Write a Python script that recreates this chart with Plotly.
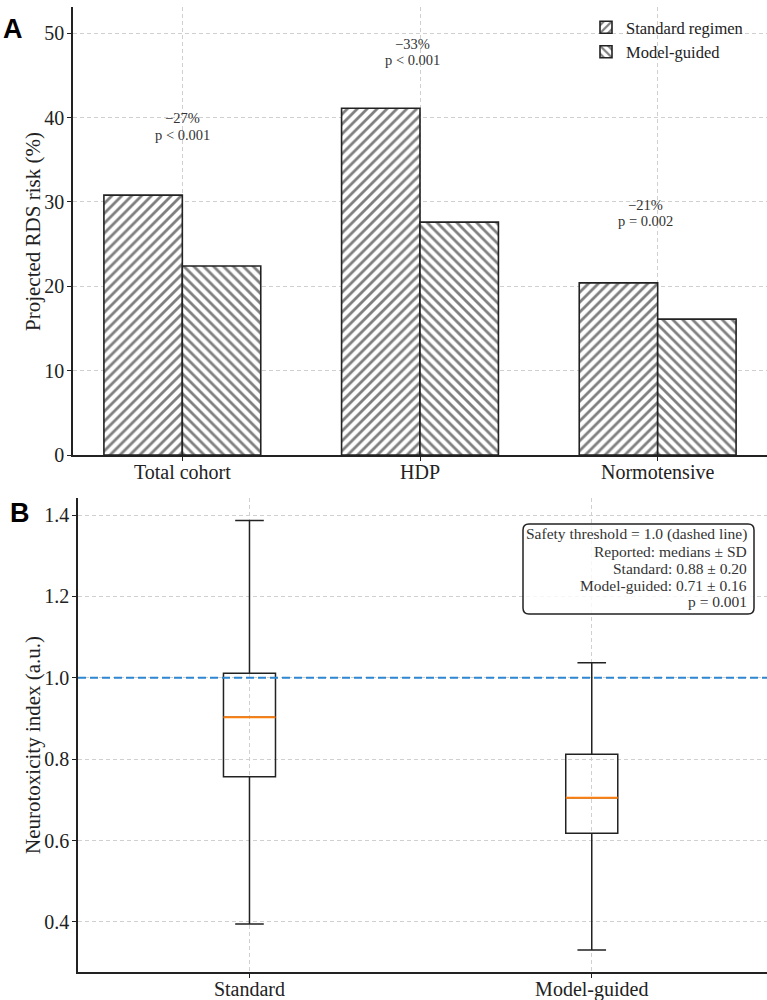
import plotly.graph_objects as go

W, H = 767, 1000
SERIF = "Liberation Serif"
SANS = "Liberation Sans"
INK = "#222222"
GRID = "#d0d0d0"

# ---------- Panel A data ----------
categories = ["Total cohort", "HDP", "Normotensive"]
standard_risk = [30.8, 41.1, 20.4]
guided_risk = [22.4, 27.6, 16.1]
change_labels = ["\u221227%", "\u221233%", "\u221221%"]
p_labels = ["p < 0.001", "p < 0.001", "p = 0.002"]
label_x = [0.0, 0.97, 1.95]
label_y_top = [39.9, 48.7, 29.6]
label_y_bottom = [37.9, 46.8, 27.7]
risk_ticks = [0, 10, 20, 30, 40, 50]

# ---------- Panel B data ----------
arms = ["Standard", "Model-guided"]
q1 = [0.757, 0.618]
median = [0.903, 0.705]
q3 = [1.011, 0.812]
whisker_low = [0.395, 0.331]
whisker_high = [1.387, 1.037]
threshold = 1.0
neuro_ticks = [0.4, 0.6, 0.8, 1.0, 1.2, 1.4]
stats_lines = [
    "Safety threshold = 1.0 (dashed line)",
    "Reported: medians \u00b1 SD",
    "Standard: 0.88 \u00b1 0.20",
    "Model-guided: 0.71 \u00b1 0.16",
    "p = 0.001",
]

BAR_W = 0.33
BOX_W = 0.152


def px(x):
    return x / W


def py(y):
    return 1 - y / H


fig = go.Figure()

xs = list(range(len(categories)))
fig.add_trace(go.Bar(
    x=xs, y=standard_risk, width=BAR_W, offset=-BAR_W, name="Standard regimen",
    marker=dict(color="white", line=dict(color=INK, width=1.6),
                pattern=dict(shape="/", fgcolor="black", bgcolor="white", size=7, solidity=0.4)),
    xaxis="x", yaxis="y",
))
fig.add_trace(go.Bar(
    x=xs, y=guided_risk, width=BAR_W, offset=0, name="Model-guided",
    marker=dict(color="white", line=dict(color=INK, width=1.6),
                pattern=dict(shape="\\", fgcolor="black", bgcolor="white", size=7, solidity=0.4)),
    xaxis="x", yaxis="y",
))

bx = list(range(len(arms)))
fig.add_trace(go.Box(
    x=bx, q1=q1, median=median, q3=q3, lowerfence=whisker_low, upperfence=whisker_high,
    width=BOX_W, whiskerwidth=0.55, boxpoints=False,
    line=dict(color=INK, width=1.5), fillcolor="rgba(0,0,0,0)",
    showlegend=False, xaxis="x2", yaxis="y2", hoverinfo="skip",
))
for i, m in enumerate(median):
    fig.add_trace(go.Scatter(
        x=[bx[i] - BOX_W / 2, bx[i] + BOX_W / 2], y=[m, m], mode="lines",
        line=dict(color="#ff7f0e", width=2), showlegend=False,
        xaxis="x2", yaxis="y2", hoverinfo="skip",
    ))


def axis_style():
    return dict(
        showline=True, linecolor=INK, linewidth=1.5, mirror=False,
        showgrid=True, gridcolor=GRID, gridwidth=1, griddash="4px,3px",
        ticks="outside", ticklen=4, tickcolor=INK, tickwidth=1,
        zeroline=False, tickfont=dict(family=SERIF, size=20, color=INK),
    )


fig.update_layout(
    width=W, height=H,
    font=dict(family=SERIF, size=20, color=INK),
    margin=dict(l=0, r=0, t=0, b=0, autoexpand=False),
    paper_bgcolor="white", plot_bgcolor="white",
    barmode="overlay",
    xaxis=dict(domain=[px(73), 1], range=[-0.46, 2.46], tickvals=xs, ticktext=categories,
               anchor="y", ticklabelstandoff=-6, **axis_style()),
    yaxis=dict(domain=[py(455), py(7)], range=[0, 53.1], tickvals=risk_ticks,
               ticktext=[str(t) for t in risk_ticks], anchor="x", ticklabelstandoff=-1, **axis_style()),
    xaxis2=dict(domain=[px(78), 1], range=[-0.501, 1.512], tickvals=bx, ticktext=arms,
                anchor="y2", ticklabelstandoff=-6, **axis_style()),
    yaxis2=dict(domain=[py(972), py(498)], range=[0.277, 1.442], tickvals=neuro_ticks,
                ticktext=[f"{t:.1f}" for t in neuro_ticks], anchor="x2", ticklabelstandoff=-1,
                **axis_style()),
    legend=dict(x=px(586), y=py(10), xanchor="left", yanchor="top",
                bgcolor="rgba(0,0,0,0)", font=dict(family=SERIF, size=16.5, color=INK),
                traceorder="normal", itemwidth=30),
    showlegend=True,
)

# threshold line
fig.add_shape(type="line", xref="x2 domain", yref="y2", x0=0, x1=1, y0=threshold, y1=threshold,
              line=dict(color="#2e86d1", width=2, dash="8px,4px"), layer="above")

annotations = []
# panel labels
annotations.append(dict(text="<b>A</b>", x=px(13), y=py(29), xref="paper", yref="paper",
                        xanchor="center", yanchor="middle",
                        showarrow=False, font=dict(family=SANS, size=27, color="black")))
annotations.append(dict(text="<b>B</b>", x=px(20), y=py(513), xref="paper", yref="paper",
                        xanchor="center", yanchor="middle",
                        showarrow=False, font=dict(family=SANS, size=27, color="black")))
# axis titles
annotations.append(dict(text="Projected RDS risk (%)", x=px(33), y=py(232), xref="paper", yref="paper",
                        xanchor="center", yanchor="middle",
                        textangle=-90, showarrow=False, font=dict(family=SERIF, size=21, color=INK)))
annotations.append(dict(text="Neurotoxicity index (a.u.)", x=px(33), y=py(745), xref="paper", yref="paper",
                        xanchor="center", yanchor="middle",
                        textangle=-90, showarrow=False, font=dict(family=SERIF, size=21, color=INK)))
# change labels
for i in range(len(categories)):
    annotations.append(dict(text=change_labels[i], x=label_x[i], y=label_y_top[i], xref="x", yref="y",
                            showarrow=False, font=dict(family=SERIF, size=14.5, color="#333333")))
    annotations.append(dict(text=p_labels[i], x=label_x[i], y=label_y_bottom[i], xref="x", yref="y",
                            showarrow=False, font=dict(family=SERIF, size=14.5, color="#333333")))

# stats box
bx0, bx1, by0, by1, r = 523, 754, 524, 614, 6
path = (f"M {px(bx0 + r)},{py(by0)} L {px(bx1 - r)},{py(by0)} "
        f"Q {px(bx1)},{py(by0)} {px(bx1)},{py(by0 + r)} "
        f"L {px(bx1)},{py(by1 - r)} Q {px(bx1)},{py(by1)} {px(bx1 - r)},{py(by1)} "
        f"L {px(bx0 + r)},{py(by1)} Q {px(bx0)},{py(by1)} {px(bx0)},{py(by1 - r)} "
        f"L {px(bx0)},{py(by0 + r)} Q {px(bx0)},{py(by0)} {px(bx0 + r)},{py(by0)} Z")
fig.add_shape(type="path", path=path, xref="paper", yref="paper",
              line=dict(color=INK, width=1.5), fillcolor="rgba(255,255,255,0.8)", layer="above")
line_y = [534, 551, 568, 585, 601]
for t, yy in zip(stats_lines, line_y):
    annotations.append(dict(text=t, x=px(749), y=py(yy), xref="paper", yref="paper",
                            xanchor="right", yanchor="middle", showarrow=False,
                            font=dict(family=SERIF, size=15.5, color="#333333")))

fig.update_layout(annotations=annotations)

fig.write_html("out.html")
